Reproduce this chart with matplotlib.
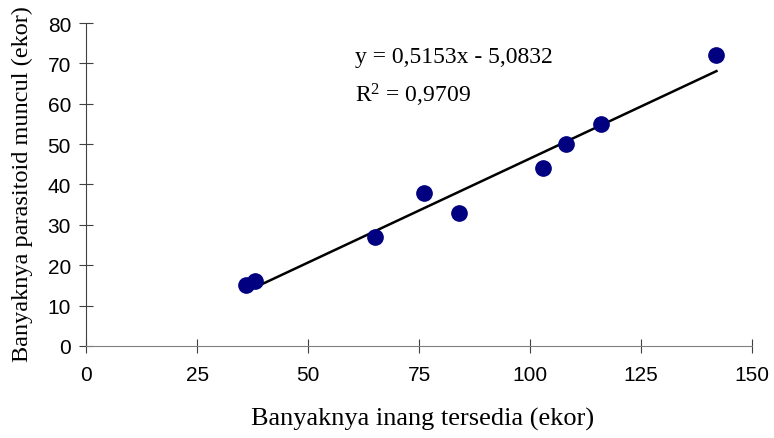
import numpy as np
import matplotlib
matplotlib.use("Agg")
import matplotlib.pyplot as plt

# data
inang = [36, 38, 65, 76, 84, 103, 108, 116, 142]
parasitoid = [15, 16, 27, 38, 33, 44, 50, 55, 72]
xticks = [0, 25, 50, 75, 100, 125, 150]
yticks = [0, 10, 20, 30, 40, 50, 60, 70, 80]

plt.rcParams["mathtext.fontset"] = "custom"
plt.rcParams["mathtext.rm"] = "Liberation Serif"
plt.rcParams["mathtext.it"] = "Liberation Serif:italic"

fig = plt.figure(figsize=(7.74, 4.39), dpi=100)
ax = fig.add_axes([0.1115, 0.2096, 0.86, 0.7357])

slope, icpt = np.polyfit(inang, parasitoid, 1)
xl = np.array([min(inang), max(inang)])
ax.plot(xl, slope * xl + icpt, color="black", lw=1.8, zorder=2)
ax.plot(inang, parasitoid, "o", color="#000080", ms=11, zorder=3)

ax.set_xlim(0, 150)
ax.set_ylim(0, 80)
ax.set_xticks(xticks)
ax.set_yticks(yticks)

for s in ["top", "right"]:
    ax.spines[s].set_visible(False)
ax.spines["bottom"].set_color("#808080")
ax.spines["left"].set_color("#404040")
ax.tick_params(axis="x", direction="inout", length=10, color="#404040",
               labelsize=15, pad=9)
ax.tick_params(axis="y", direction="inout", length=10, color="#404040",
               labelsize=15, pad=6)
for lbl in ax.get_xticklabels() + ax.get_yticklabels():
    lbl.set_fontfamily("Liberation Sans")

serif = "Liberation Serif"
ax.text(60.5, 71.8, "y = 0,5153x - 5,0832", fontsize=17, family=serif,
        va="center", ha="left")
ax.text(60.5, 62.4, r"R$^{\mathrm{2}}$ = 0,9709", fontsize=17, family=serif,
        va="center", ha="left")

fig.text(423 / 774, 1 - 419 / 439, "Banyaknya inang tersedia (ekor)",
         fontsize=19, family=serif, ha="center", va="center")
fig.text(22 / 774, 1 - 184 / 439, "Banyaknya parasitoid muncul (ekor)",
         fontsize=17.5, family=serif, ha="center", va="center", rotation=90)

fig.savefig("out.png", dpi=100)
